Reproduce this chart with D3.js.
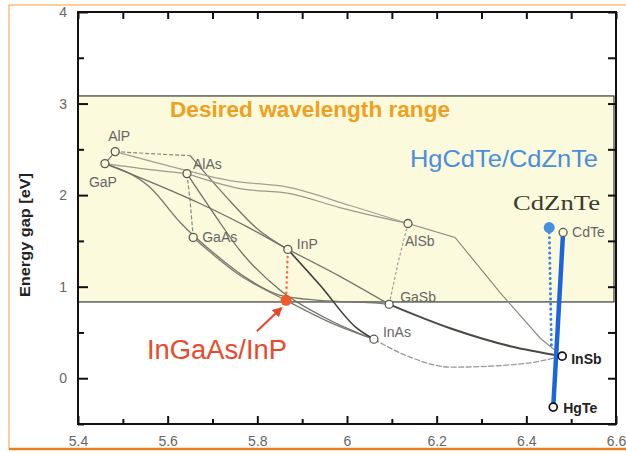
<!DOCTYPE html>
<html>
<head>
<meta charset="utf-8">
<script src="https://cdn.jsdelivr.net/npm/d3@7"></script>
<style>
body { margin: 0; background: #fff; }
svg { display: block; font-family: "Liberation Sans", Arial, sans-serif; }
</style>
</head>
<body>
<div id="chart"></div>
<script>
var width = 626, height = 453;

// binary compounds: lattice constant [A], energy gap [eV]
var compounds = ["AlP", "GaP", "AlAs", "GaAs", "InP", "AlSb", "GaSb", "InAs", "InSb", "HgTe", "CdTe"];
var lattice   = [5.483, 5.460, 5.643, 5.657, 5.868, 6.136, 6.094, 6.060, 6.480, 6.460, 6.482];
var gap       = [2.475, 2.344, 2.235, 1.538, 1.407, 1.690, 0.807, 0.426, 0.241, -0.315, 1.592];

var xTicks = [5.4, 5.6, 5.8, 6, 6.2, 6.4, 6.6];
var xMinor = [5.5, 5.7, 5.9, 6.1, 6.3, 6.5];
var yTicks = [0, 1, 2, 3, 4];
var yMinor = [-0.5, 0.5, 1.5, 2.5, 3.5];

var desiredRange = [0.833, 3.083];
var ingaas = [5.864, 0.851];
var cdznte = [6.451, 1.646];

// ternary alloy curves
var alpGap   = [[5.483, 2.475], [5.460, 2.344]];
var alpKink  = [[5.483, 2.475], [5.561, 2.453], [5.650, 2.431]];
var alpInp   = [[5.650, 2.431], [5.728, 1.995], [5.799, 1.636], [5.868, 1.407]];
var gapAlas  = [[5.460, 2.344], [5.561, 2.279], [5.643, 2.235]];
var alpAlsb  = [[5.483, 2.475], [5.583, 2.344], [5.739, 2.159], [5.873, 2.082], [6.007, 1.886], [6.136, 1.690]];
var alasAlsb = [[5.643, 2.235], [5.761, 2.071], [5.873, 2.017], [5.984, 1.864], [6.136, 1.690]];
var alasGaas = [[5.643, 2.235], [5.650, 1.941], [5.657, 1.538]];
var gapGasb  = [[5.460, 2.344], [5.561, 2.082], [5.628, 1.701], [5.723, 1.287], [5.777, 1.091], [5.851, 0.906], [5.940, 0.851], [6.074, 0.818], [6.094, 0.807]];
var gapInp   = [[5.460, 2.344], [5.672, 1.908], [5.784, 1.636], [5.868, 1.407]];
var inpGasb  = [[5.868, 1.407], [5.984, 1.113], [6.094, 0.807]];
var alasInas = [[5.643, 2.235], [5.706, 1.777], [5.761, 1.396], [5.851, 0.960], [5.962, 0.633], [6.060, 0.426]];
var gaasInas = [[5.657, 1.538], [5.761, 1.124], [5.864, 0.851], [5.962, 0.611], [6.060, 0.426]];
var inpInas  = [[5.868, 1.407], [5.940, 1.015], [6.022, 0.546], [6.060, 0.426]];
var gasbInsb = [[6.094, 0.807], [6.230, 0.546], [6.364, 0.350], [6.480, 0.241]];
var inasInsb = [[6.060, 0.426], [6.141, 0.230], [6.230, 0.121], [6.357, 0.143], [6.431, 0.187], [6.480, 0.241]];
var alsbInsb = [[6.136, 1.690], [6.241, 1.538], [6.341, 0.938], [6.431, 0.437], [6.480, 0.241]];
var alsbGasb = [[6.136, 1.690], [6.114, 1.265], [6.094, 0.807]];

var hgcdte   = [[6.460, -0.315], [6.482, 1.592]];
var cdzDots  = [[6.451, 1.646], [6.456, 0.339]];
var inpDots  = [[5.868, 1.38], [5.864, 0.851]];
var arrowPts = [[5.799, 0.513], [5.853, 0.764]];

var svg = d3.select("#chart")
    .append("svg")
    .attr("width", width)
    .attr("height", height);

var x = d3.scaleLinear().domain([5.4, 6.6]).range([78, 616]);
var y = d3.scaleLinear().domain([-0.5, 4]).range([424, 12]);

// orange outer border
svg.append("rect")
    .attr("x", 9).attr("y", 5)
    .attr("width", 640).attr("height", 444)
    .attr("fill", "none")
    .attr("stroke", "#f4b060")
    .attr("stroke-width", 1.2);
svg.append("line")
    .attr("x1", 9).attr("x2", width)
    .attr("y1", 449).attr("y2", 449)
    .attr("stroke", "#e8801e")
    .attr("stroke-width", 2.5);

// desired wavelength band
svg.append("rect")
    .attr("x", x(5.4)).attr("y", y(desiredRange[1]))
    .attr("width", x(6.6) - x(5.4) - 2)
    .attr("height", y(desiredRange[0]) - y(desiredRange[1]))
    .attr("fill", "#fbfadc")
    .attr("stroke", "#111")
    .attr("stroke-width", 1);

var line = d3.line().x(function (d) { return x(d[0]); }).y(function (d) { return y(d[1]); });
var smooth = d3.line().curve(d3.curveMonotoneX)
    .x(function (d) { return x(d[0]); }).y(function (d) { return y(d[1]); });

var curves = [
    { pts: alpGap,   gen: line,   color: "#7a7a70", w: 1.3 },
    { pts: alpKink,  gen: line,   color: "#8a8a80", w: 1.2, dash: "4,2" },
    { pts: alpInp,   gen: smooth, color: "#75756c", w: 1.3 },
    { pts: gapAlas,  gen: smooth, color: "#9a9a90", w: 1.2 },
    { pts: alpAlsb,  gen: smooth, color: "#a0a096", w: 1.2 },
    { pts: alasAlsb, gen: smooth, color: "#9a9a90", w: 1.2 },
    { pts: alasGaas, gen: line,   color: "#8a8a80", w: 1.2, dash: "4,2" },
    { pts: gapGasb,  gen: smooth, color: "#77776e", w: 1.3 },
    { pts: gapInp,   gen: smooth, color: "#6f6f66", w: 1.3 },
    { pts: inpGasb,  gen: smooth, color: "#77776e", w: 1.3 },
    { pts: alasInas, gen: smooth, color: "#6f6f66", w: 1.3 },
    { pts: gaasInas, gen: smooth, color: "#7a7a72", w: 1.3 },
    { pts: inpInas,  gen: smooth, color: "#3e3e38", w: 1.6 },
    { pts: gasbInsb, gen: smooth, color: "#4a4a44", w: 2 },
    { pts: inasInsb, gen: smooth, color: "#9a9a92", w: 1.3, dash: "6,1.5" },
    { pts: alsbInsb, gen: line,   color: "#8a8a80", w: 1.2 },
    { pts: alsbGasb, gen: line,   color: "#a0a096", w: 1.2, dash: "3,2" }
];

svg.append("g").selectAll("path")
    .data(curves)
    .enter().append("path")
    .attr("d", function (d) { return d.gen(d.pts); })
    .attr("fill", "none")
    .attr("stroke", function (d) { return d.color; })
    .attr("stroke-width", function (d) { return d.w; })
    .attr("stroke-dasharray", function (d) { return d.dash || null; });

// frame
svg.append("rect")
    .attr("x", x(5.4)).attr("y", y(4))
    .attr("width", x(6.6) - x(5.4)).attr("height", y(-0.5) - y(4))
    .attr("fill", "none")
    .attr("stroke", "#111")
    .attr("stroke-width", 2);

function styleAxis(g) {
    g.select(".domain").remove();
    g.selectAll(".tick line").attr("stroke", "#111").attr("stroke-width", 2);
    g.selectAll(".tick text").attr("fill", "#666").style("font-size", "14px")
        .style("font-family", "'Liberation Sans', Arial, sans-serif");
}

var fmt = d3.format("~g");
svg.append("g").attr("transform", "translate(0," + y(-0.5) + ")")
    .call(d3.axisBottom(x).tickValues(xTicks).tickSize(-8).tickPadding(12).tickFormat(fmt))
    .call(styleAxis);
svg.append("g").attr("transform", "translate(0," + y(-0.5) + ")")
    .call(d3.axisBottom(x).tickValues(xMinor).tickSize(-5).tickFormat(""))
    .call(styleAxis);
svg.append("g").attr("transform", "translate(0," + y(4) + ")")
    .call(d3.axisTop(x).tickValues(xTicks.concat(xMinor)).tickSize(-7).tickFormat(""))
    .call(styleAxis);
svg.append("g").attr("transform", "translate(" + x(5.4) + ",0)")
    .call(d3.axisLeft(y).tickValues(yTicks).tickSize(-10).tickPadding(11).tickFormat(fmt))
    .call(styleAxis);
svg.append("g").attr("transform", "translate(" + x(5.4) + ",0)")
    .call(d3.axisLeft(y).tickValues(yMinor).tickSize(-6).tickFormat(""))
    .call(styleAxis);
svg.append("g").attr("transform", "translate(" + x(6.6) + ",0)")
    .call(d3.axisRight(y).tickValues(yTicks.concat(yMinor)).tickSize(-8).tickFormat(""))
    .call(styleAxis);

// y axis title
svg.append("text")
    .attr("transform", "translate(30,235) rotate(-90)")
    .attr("text-anchor", "middle")
    .attr("font-weight", "bold")
    .attr("font-size", 14)
    .attr("textLength", 124)
    .attr("lengthAdjust", "spacingAndGlyphs")
    .attr("fill", "#222")
    .text("Energy gap [eV]");

// HgCdTe lines
svg.append("path")
    .attr("d", line(cdzDots))
    .attr("stroke", "#3b82e6")
    .attr("stroke-width", 3)
    .attr("stroke-linecap", "round")
    .attr("stroke-dasharray", "0.1,5");
svg.append("path")
    .attr("d", line(hgcdte))
    .attr("stroke", "#1b66de")
    .attr("stroke-width", 4.5)
    .attr("stroke-linecap", "round");

// InGaAs dotted drop from InP
svg.append("path")
    .attr("d", line(inpDots))
    .attr("stroke", "#f06a50")
    .attr("stroke-width", 2.5)
    .attr("stroke-linecap", "round")
    .attr("stroke-dasharray", "0.1,5");

// compound markers
var darkOnes = ["InSb", "HgTe"];
svg.append("g").selectAll("circle")
    .data(compounds)
    .enter().append("circle")
    .attr("cx", function (d, i) { return x(lattice[i]); })
    .attr("cy", function (d, i) { return y(gap[i]); })
    .attr("r", 4)
    .attr("fill", function (d, i) { return gap[i] > desiredRange[0] && gap[i] < desiredRange[1] ? "#fbfadc" : "#fff"; })
    .attr("stroke", function (d) { return darkOnes.indexOf(d) >= 0 ? "#111" : "#5a5a52"; })
    .attr("stroke-width", function (d) { return darkOnes.indexOf(d) >= 0 ? 1.7 : 1.3; });

var labelOffset = {
    AlP: [-7, -11], GaP: [-16, 23], AlAs: [6, -5], GaAs: [9, 5], InP: [9, 0],
    AlSb: [-3, 23], GaSb: [11, -2], InAs: [9, -2], InSb: [9, 8], HgTe: [10, 6], CdTe: [9, 5]
};
svg.append("g").selectAll("text")
    .data(compounds)
    .enter().append("text")
    .attr("x", function (d, i) { return x(lattice[i]) + labelOffset[d][0]; })
    .attr("y", function (d, i) { return y(gap[i]) + labelOffset[d][1]; })
    .attr("font-size", 14)
    .attr("font-weight", function (d) { return darkOnes.indexOf(d) >= 0 ? "bold" : "normal"; })
    .attr("fill", function (d) { return darkOnes.indexOf(d) >= 0 ? "#222" : "#666"; })
    .text(function (d) { return d; });

// highlighted points
svg.append("circle")
    .attr("cx", x(cdznte[0])).attr("cy", y(cdznte[1]))
    .attr("r", 5.5).attr("fill", "#4a8ee2");
svg.append("circle")
    .attr("cx", x(ingaas[0])).attr("cy", y(ingaas[1]))
    .attr("r", 5.5).attr("fill", "#f05a2a");

// arrow
svg.append("defs").append("marker")
    .attr("id", "arr")
    .attr("viewBox", "0 0 10 10")
    .attr("refX", 8).attr("refY", 5)
    .attr("markerWidth", 5).attr("markerHeight", 5)
    .attr("orient", "auto")
    .append("path")
    .attr("d", "M0,0L10,5L0,10z")
    .attr("fill", "#e8452a");
svg.append("path")
    .attr("d", line(arrowPts))
    .attr("stroke", "#e8452a")
    .attr("stroke-width", 2)
    .attr("marker-end", "url(#arr)");

// annotations
svg.append("text")
    .attr("x", 170).attr("y", 117)
    .attr("font-size", 22).attr("font-weight", "bold")
    .attr("textLength", 280).attr("lengthAdjust", "spacingAndGlyphs")
    .attr("fill", "#f0a020")
    .text("Desired wavelength range");
svg.append("text")
    .attr("x", 410).attr("y", 167)
    .attr("font-size", 24)
    .attr("textLength", 188).attr("lengthAdjust", "spacingAndGlyphs")
    .attr("fill", "#4a8ede")
    .text("HgCdTe/CdZnTe");
svg.append("text")
    .attr("x", 513).attr("y", 210)
    .attr("font-size", 21)
    .attr("font-family", "'Liberation Serif', 'Times New Roman', serif")
    .attr("textLength", 87).attr("lengthAdjust", "spacingAndGlyphs")
    .attr("fill", "#3a3a30")
    .text("CdZnTe");
svg.append("text")
    .attr("x", 147).attr("y", 359)
    .attr("font-size", 27)
    .attr("textLength", 140).attr("lengthAdjust", "spacingAndGlyphs")
    .attr("fill", "#e84a2a")
    .text("InGaAs/InP");
</script>
</body>
</html>
